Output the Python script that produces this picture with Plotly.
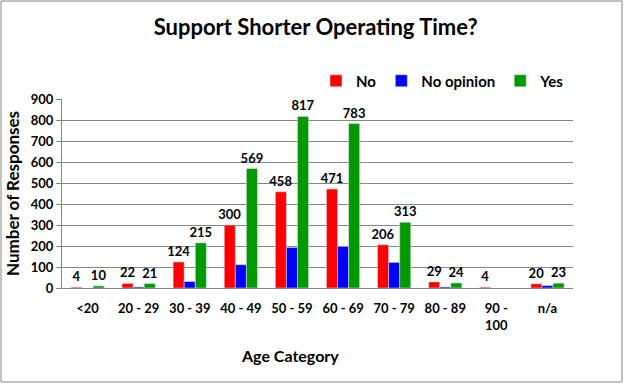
import plotly.graph_objects as go

categories = ["<20", "20 - 29", "30 - 39", "40 - 49", "50 - 59", "60 - 69", "70 - 79", "80 - 89", "90 -<br>100", "n/a"]
no_vals = [4, 22, 124, 300, 458, 471, 206, 29, 4, 20]
noop_vals = [None, 5, 31, 111, 193, 198, 122, 5, None, 12]
yes_vals = [10, 21, 215, 569, 817, 783, 313, 24, None, 23]

FONT = "Lato"
W, H = 625, 385
L, R, T, B = 62, 52, 99, 97
PW, PH = W - L - R, H - T - B

label_font = dict(family=FONT, size=13, color="black")
fig = go.Figure()
fig.add_trace(go.Bar(name="<b>No</b>", x=categories, y=no_vals, marker_color="#FF0000",
                     texttemplate="<b>%{y}</b>", textposition="outside", cliponaxis=False,
                     textangle=0, constraintext="none", textfont=label_font))
fig.add_trace(go.Bar(name="<b>No opinion</b>", x=categories, y=noop_vals, marker_color="#0000FF"))
fig.add_trace(go.Bar(name="<b>Yes</b>", x=categories, y=yes_vals, marker_color="#009900",
                     texttemplate="<b>%{y}</b>", textposition="outside", cliponaxis=False,
                     textangle=0, constraintext="none", textfont=label_font))

fig.update_layout(
    width=W, height=H,
    margin=dict(l=L, r=R, t=T, b=B),
    paper_bgcolor="white", plot_bgcolor="white",
    barmode="group", bargap=0.35, bargroupgap=0,
    font=dict(family=FONT, color="black"),
    title=dict(text="<b>Support Shorter Operating Time?</b>", x=0.505, xanchor="center",
               y=1 - 27 / H, yanchor="middle", font=dict(family=FONT, size=22, color="black")),
    legend=dict(orientation="h", x=(570 - L) / PW, xanchor="right",
                y=1 + (T - 81) / PH, yanchor="middle",
                font=dict(family=FONT, size=15, color="black"),
                itemwidth=30, traceorder="normal", bgcolor="rgba(0,0,0,0)"),
    showlegend=True,
)
fig.update_xaxes(showline=True, linecolor="#868686", linewidth=1, showgrid=False,
                 ticks="", tickfont=dict(family=FONT, size=13, color="black"),
                 ticklabelstandoff=8, tickprefix="<b>", ticksuffix="</b>")
fig.update_yaxes(range=[0, 900], dtick=100, showline=True, linecolor="#868686", linewidth=1,
                 showgrid=True, gridcolor="#868686", gridwidth=1, zeroline=False,
                 ticks="outside", ticklen=5, tickcolor="#868686",
                 tickfont=dict(family=FONT, size=13, color="black"),
                 tickprefix="<b>", ticksuffix="</b>",
                 title=dict(text="<b>Number of Responses</b>", font=dict(family=FONT, size=17, color="black"),
                            standoff=6))

fig.add_annotation(text="<b>Age Category</b>", xref="paper", yref="paper",
                   x=(290 - L) / PW, y=-(355 - (H - B)) / PH,
                   xanchor="center", yanchor="middle", showarrow=False,
                   font=dict(family=FONT, size=16, color="black"))

fig.add_shape(type="rect", xref="paper", yref="paper",
              x0=-(L - 1) / PW, x1=1 + (R - 3) / PW,
              y0=-(B - 3) / PH, y1=1 + (T - 1) / PH,
              line=dict(color="#868686", width=1), layer="below")

fig.write_html("out.html", config={"displayModeBar": False},
               post_script="document.body.style.margin='0px';document.body.style.padding='0px';")
